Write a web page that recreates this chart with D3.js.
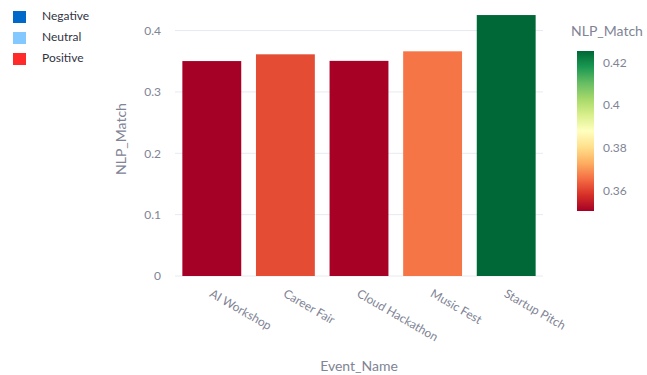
<!DOCTYPE html>
<html>
<head>
<meta charset="utf-8">
<script src="https://cdn.jsdelivr.net/npm/d3@7/dist/d3.min.js"></script>
<style>
  html, body { margin: 0; padding: 0; background: #ffffff; }
  svg { display: block; }
  text { font-family: Lato, "Noto Sans", sans-serif; }
</style>
</head>
<body>
<svg id="chart" width="647" height="375"></svg>
<script>
// Event categories and their NLP match scores
const events = ["AI Workshop", "Career Fair", "Cloud Hackathon", "Music Fest", "Startup Pitch"];
const nlpMatch = [0.3503, 0.3613, 0.3506, 0.3662, 0.4253];

// Sentiment legend entries
const legendLabels = ["Negative", "Neutral", "Positive"];
const legendColors = ["#0068c9", "#83c9ff", "#ff2b2b"];

// Axis tick values
const yTicks = [0, 0.1, 0.2, 0.3, 0.4];
const colorbarTicks = [0.36, 0.38, 0.40, 0.42];

// RdYlGn colour stops
const rdylgn = ["rgb(165,0,38)", "rgb(215,48,39)", "rgb(244,109,67)", "rgb(253,174,97)",
  "rgb(254,224,139)", "rgb(255,255,191)", "rgb(217,239,139)", "rgb(166,217,106)",
  "rgb(102,189,99)", "rgb(26,152,80)", "rgb(0,104,55)"];

const svg = d3.select("#chart");
const plot = { left: 175, right: 543, top: 2, bottom: 276 };

const tickColor = "#808495";
const gridColor = "#e6eaf1";
const fontStack = "Lato, 'Noto Sans', sans-serif";

const [cmin, cmax] = d3.extent(nlpMatch);
const color = d3.scaleLinear()
  .domain(rdylgn.map((_, i) => cmin + (cmax - cmin) * i / (rdylgn.length - 1)))
  .range(rdylgn)
  .interpolate(d3.interpolateRgb);

const x = d3.scaleBand().domain(events).range([plot.left, plot.right]).paddingInner(0.2).paddingOuter(0.1);
const y = d3.scaleLinear().domain([0, cmax * 1.05]).range([plot.bottom, plot.top]);

// Grid lines
svg.append("g")
  .selectAll("line")
  .data(yTicks)
  .join("line")
  .attr("x1", plot.left).attr("x2", plot.right)
  .attr("y1", d => y(d)).attr("y2", d => y(d))
  .attr("stroke", gridColor).attr("stroke-width", 1);

// Y axis tick labels
const yAxis = d3.axisLeft(y).tickValues(yTicks).tickSize(0).tickPadding(14).tickFormat(d3.format("~g"));
svg.append("g")
  .attr("transform", `translate(${plot.left},0)`)
  .call(yAxis)
  .call(g => g.select(".domain").remove())
  .call(g => g.selectAll("text").attr("fill", tickColor).style("font-size", "12px").style("font-family", fontStack));

// Bars
svg.append("g")
  .selectAll("rect")
  .data(events)
  .join("rect")
  .attr("x", d => x(d))
  .attr("width", x.bandwidth())
  .attr("y", (d, i) => y(nlpMatch[i]))
  .attr("height", (d, i) => y(0) - y(nlpMatch[i]))
  .attr("fill", (d, i) => color(nlpMatch[i]));

// X axis rotated labels
const xAxis = d3.axisBottom(x).tickSize(0).tickPadding(0);
svg.append("g")
  .attr("transform", `translate(0,${plot.bottom})`)
  .call(xAxis)
  .call(g => g.select(".domain").remove())
  .call(g => g.selectAll("text")
    .attr("fill", tickColor)
    .style("font-size", "12px")
    .style("font-family", fontStack)
    .attr("text-anchor", "start")
    .attr("dy", null)
    .attr("y", 0)
    .attr("transform", "translate(-3,20) rotate(30)"));

// Axis titles
svg.append("text")
  .attr("x", (plot.left + plot.right) / 2)
  .attr("y", 367)
  .attr("text-anchor", "middle")
  .attr("dominant-baseline", "middle")
  .attr("fill", tickColor)
  .style("font-size", "14px")
  .text("Event_Name");

svg.append("text")
  .attr("transform", `translate(122,${(plot.top + plot.bottom) / 2}) rotate(-90)`)
  .attr("text-anchor", "middle")
  .attr("dominant-baseline", "middle")
  .attr("fill", tickColor)
  .style("font-size", "14px")
  .text("NLP_Match");

// Colorbar
const cb = { x: 577, w: 17, top: 51, bottom: 211 };
const cbY = d3.scaleLinear().domain([cmin, cmax]).range([cb.bottom, cb.top]);
const defs = svg.append("defs");
const grad = defs.append("linearGradient")
  .attr("id", "cbGrad").attr("x1", 0).attr("y1", 1).attr("x2", 0).attr("y2", 0);
grad.selectAll("stop")
  .data(rdylgn)
  .join("stop")
  .attr("offset", (d, i) => i / (rdylgn.length - 1))
  .attr("stop-color", d => d);

svg.append("rect")
  .attr("x", cb.x).attr("y", cb.top)
  .attr("width", cb.w).attr("height", cb.bottom - cb.top)
  .attr("fill", "url(#cbGrad)");

const cbAxis = d3.axisRight(cbY).tickValues(colorbarTicks).tickSize(0).tickPadding(9).tickFormat(d3.format("~g"));
svg.append("g")
  .attr("transform", `translate(${cb.x + cb.w},0)`)
  .call(cbAxis)
  .call(g => g.select(".domain").remove())
  .call(g => g.selectAll("text").attr("fill", tickColor).style("font-size", "12px").style("font-family", fontStack));

svg.append("text")
  .attr("x", 607).attr("y", 32)
  .attr("text-anchor", "middle")
  .attr("dominant-baseline", "middle")
  .attr("fill", tickColor)
  .style("font-size", "14px")
  .text("NLP_Match");

// Legend
const legend = svg.append("g").selectAll("g")
  .data(legendLabels)
  .join("g")
  .attr("transform", (d, i) => `translate(13,${17 + i * 21})`);
legend.append("rect")
  .attr("x", 0).attr("y", -6)
  .attr("width", 13).attr("height", 12)
  .attr("fill", (d, i) => legendColors[i]);
legend.append("text")
  .attr("x", 29).attr("y", 0)
  .attr("dominant-baseline", "middle")
  .attr("fill", "#31333f")
  .style("font-size", "12px")
  .text(d => d);
</script>
</body>
</html>
